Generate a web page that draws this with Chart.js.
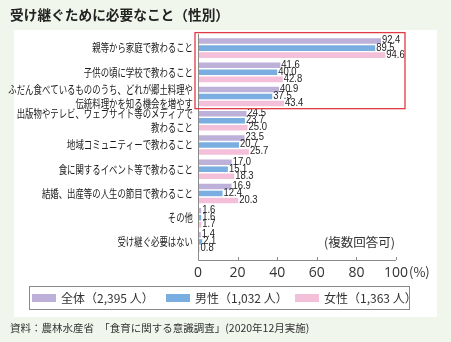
<!DOCTYPE html>
<html>
<head>
<meta charset="utf-8">
<script src="https://cdn.jsdelivr.net/npm/chart.js@4/dist/chart.umd.min.js"></script>
<style>
  html, body { margin: 0; padding: 0; background: #f1f6ec; }
  #wrap { width: 451px; height: 342px; position: relative; }
</style>
</head>
<body>
<div id="wrap"><canvas id="chart" width="451" height="342"></canvas></div>
<script>
// data
const categories = [
    ['親等から家庭で教わること'],
    ['子供の頃に学校で教わること'],
    ['ふだん食べているもののうち、どれが郷土料理や', '伝統料理かを知る機会を増やす'],
    ['出版物やテレビ、ウェブサイト等のメディアで', '教わること'],
    ['地域コミュニティーで教わること'],
    ['食に関するイベント等で教わること'],
    ['結婚、出産等の人生の節目で教わること'],
    ['その他'],
    ['受け継ぐ必要はない']
];
const allValues    = [92.4, 41.6, 40.9, 24.5, 23.5, 17.0, 16.9, 1.6, 1.4];
const maleValues   = [89.5, 40.0, 37.5, 23.7, 20.7, 15.1, 12.4, 1.6, 2.1];
const femaleValues = [94.6, 42.8, 43.4, 25.0, 25.7, 18.3, 20.3, 1.7, 0.8];
const seriesNames  = ['全体（2,395 人）', '男性（1,032 人）', '女性（1,363 人）'];
const xTicks       = [0, 20, 40, 60, 80, 100];

const colors = ['#bdb0d9', '#7aaee0', '#f4bfd8'];
const JP = '"Noto Sans CJK JP", "Noto Sans", sans-serif';

// panel, title, notes, legend, labels
const decor = {
    id: 'decor',
    beforeDraw(chart) {
        const ctx = chart.ctx;
        ctx.save();
        ctx.fillStyle = '#f1f6ec';
        ctx.fillRect(0, 0, chart.width, chart.height);
        ctx.fillStyle = '#ffffff';
        ctx.fillRect(14, 30, 423, 287);
        ctx.restore();
    },
    afterDraw(chart) {
        const ctx = chart.ctx;
        const x = chart.scales.x, y = chart.scales.y;
        const area = chart.chartArea;
        const base = 260;
        ctx.save();

        // title
        ctx.fillStyle = '#222';
        ctx.font = 'bold 13.7px ' + JP;
        ctx.textBaseline = 'middle';
        ctx.textAlign = 'left';
        ctx.fillText('受け継ぐために必要なこと（性別）', 10, 15);

        // source
        ctx.font = '10.5px ' + JP;
        ctx.fillStyle = '#333';
        ctx.fillText('資料：農林水産省　「食育に関する意識調査」(2020年12月実施)', 10, 328);

        // axes
        ctx.strokeStyle = '#8a8a8a';
        ctx.lineWidth = 1;
        ctx.beginPath();
        ctx.moveTo(x.getPixelForValue(0) + 0.5, area.top - 2);
        ctx.lineTo(x.getPixelForValue(0) + 0.5, base + 0.5);
        ctx.lineTo(x.getPixelForValue(100), base + 0.5);
        xTicks.forEach(t => {
            const px = Math.round(x.getPixelForValue(t)) + 0.5;
            ctx.moveTo(px, base);
            ctx.lineTo(px, base - 3);
        });
        ctx.stroke();

        // (%) after 100
        ctx.fillStyle = '#333';
        ctx.font = '14px "Open Sans", "Noto Sans", sans-serif';
        ctx.textAlign = 'left';
        const w100 = ctx.measureText('100').width;
        ctx.font = '13px ' + JP;
        ctx.fillText('(%)', x.getPixelForValue(100) + w100 / 2 + 1, 272);

        // note
        ctx.font = '12.5px ' + JP;
        ctx.fillText('(複数回答可)', 324, 242);

        // category labels (condensed like the original)
        ctx.fillStyle = '#1a1a1a';
        ctx.font = '11.5px ' + JP;
        ctx.textAlign = 'right';
        categories.forEach((lines, i) => {
            const cy = y.getPixelForValue(i);
            const lh = 13.5;
            lines.forEach((line, k) => {
                const ly = cy + (k - (lines.length - 1) / 2) * lh;
                ctx.save();
                ctx.translate(193, ly);
                ctx.scale(0.73, 1);
                ctx.fillText(line, 0, 0);
                ctx.restore();
            });
        });

        // value labels
        ctx.fillStyle = '#222';
        ctx.font = '10.5px "Liberation Sans", Arial, sans-serif';
        ctx.textAlign = 'left';
        chart.data.datasets.forEach((ds, di) => {
            chart.getDatasetMeta(di).data.forEach((bar, i) => {
                ctx.save();
                ctx.translate(bar.x + 1, bar.y - 0.5);
                ctx.scale(0.9, 1);
                ctx.fillText(ds.data[i].toFixed(1), 0, 0);
                ctx.restore();
            });
        });

        // red frame round the first three groups
        ctx.strokeStyle = '#e03a45';
        ctx.lineWidth = 1.3;
        const fTop = y.getPixelForValue(0) - 15.5;
        const fBot = (y.getPixelForValue(2) + y.getPixelForValue(3)) / 2;
        ctx.strokeRect(x.getPixelForValue(0) - 3, fTop, x.getPixelForValue(100) + 9 - (x.getPixelForValue(0) - 3), fBot - fTop);

        // legend box
        ctx.strokeStyle = '#8a8a8a';
        ctx.lineWidth = 1;
        ctx.strokeRect(29.5, 286.5, 380, 23);
        const sw = [32, 166, 295];
        ctx.font = '12px ' + JP;
        seriesNames.forEach((name, i) => {
            ctx.fillStyle = colors[i];
            ctx.fillRect(sw[i], 294, 24, 8);
            ctx.fillStyle = '#333';
            ctx.fillText(name, sw[i] + 29, 298.5);
        });
        ctx.restore();
    }
};

new Chart(document.getElementById('chart').getContext('2d'), {
    type: 'bar',
    data: {
        labels: categories,
        datasets: [
            { label: seriesNames[0], data: allValues, backgroundColor: colors[0] },
            { label: seriesNames[1], data: maleValues, backgroundColor: colors[1] },
            { label: seriesNames[2], data: femaleValues, backgroundColor: colors[2] }
        ]
    },
    options: {
        indexAxis: 'y',
        responsive: false,
        animation: false,
        devicePixelRatio: 1,
        categoryPercentage: 0.87,
        barPercentage: 0.79,
        layout: { padding: { top: 36, left: 0, right: 55, bottom: 58 } },
        plugins: { legend: { display: false }, tooltip: { enabled: false } },
        scales: {
            x: {
                min: 0, max: 100,
                afterBuildTicks: s => { s.ticks = xTicks.map(v => ({ value: v })); },
                afterFit: s => { s.height = 30; },
                grid: { display: false, drawTicks: false },
                border: { display: false },
                ticks: {
                    padding: 11,
                    color: '#333',
                    font: { size: 14, family: '"Open Sans", "Noto Sans", sans-serif' }
                }
            },
            y: {
                afterFit: s => { s.width = 198; },
                grid: { display: false },
                border: { display: false },
                ticks: { display: false }
            }
        }
    },
    plugins: [decor]
});
</script>
</body>
</html>
